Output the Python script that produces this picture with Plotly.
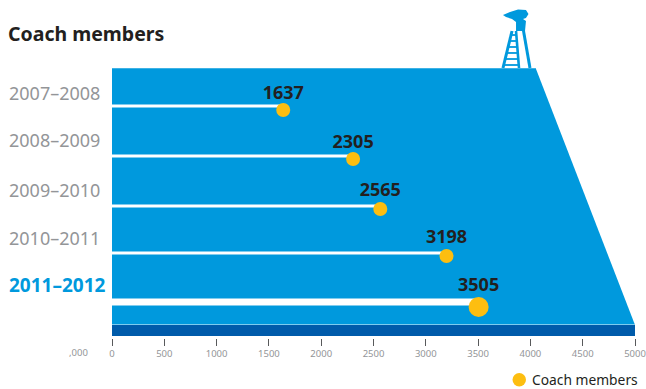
import plotly.graph_objects as go

# Data
seasons = ["2007–2008", "2008–2009", "2009–2010", "2010–2011", "2011–2012"]
coach_members = [1637, 2305, 2565, 3198, 3505]
x_ticks = [0, 500, 1000, 1500, 2000, 2500, 3000, 3500, 4000, 4500, 5000]
series_name = "Coach members"

# Layout constants (pixel geometry of the page)
W, H = 646, 389
L, R, TOP, BOT, AXIS = 112, 635, 68, 336, 338
line_row = [106, 156, 206, 253, 302]
dot_row = [110, 159, 209, 256, 307]
value_row = [94, 143, 191, 238, 286]
label_row = [94, 141, 191, 239, 286]
line_w = [3, 3, 3, 3, 7]
dot_size = [14, 14, 14, 14, 20]

BLUE, DARK, GOLD, INK, GREY = "#0099DD", "#005BAA", "#FDBE10", "#231F20", "#939598"
FONT = "Noto Sans"

def tx(x): return x / W
def ty(y): return 1 - y / H
def path(points):
    return "M" + " L".join(f"{x},{y}" for x, y in points) + " Z"
def tower(points, closed=True):
    s = "M" + " L".join(f"{tx(x):.4f},{ty(y):.4f}" for x, y in points)
    return s + (" Z" if closed else "")

fig = go.Figure()
for i, v in enumerate(coach_members):
    fig.add_trace(go.Scatter(x=[0, v], y=[line_row[i]] * 2, mode="lines",
                             line=dict(color="white", width=line_w[i]),
                             showlegend=False, hoverinfo="skip"))
fig.add_trace(go.Scatter(x=coach_members, y=dot_row, mode="markers", name=series_name,
                         marker=dict(color=GOLD, size=dot_size, opacity=1, line=dict(width=0)),
                         showlegend=False))
fig.add_trace(go.Scatter(x=coach_members, y=value_row, mode="text",
                         text=[str(v) for v in coach_members], textposition="middle center",
                         textfont=dict(family=FONT, size=18, color=INK, weight="bold"),
                         showlegend=False, hoverinfo="skip"))

shapes = [
    dict(type="path", xref="x", yref="y", layer="below", line_width=0, fillcolor=BLUE,
         path=path([(0, TOP), (4050, TOP), (5000, 325), (0, 325)])),
    dict(type="rect", xref="x", yref="y", layer="below", line_width=0, fillcolor=DARK,
         x0=0, x1=5000, y0=325, y1=BOT),
    dict(type="line", xref="x", yref="y", layer="below", x0=0, x1=4050, y0=TOP, y1=TOP,
         line=dict(color="#7CCBEE", width=1)),
    dict(type="line", xref="x", yref="y", layer="below", x0=0, x1=5000, y0=324.5, y1=324.5,
         line=dict(color="#7CCBEE", width=1)),
    # legend key
    dict(type="circle", xref="paper", yref="paper", fillcolor=GOLD, line_width=0,
         x0=tx(512.5), x1=tx(526), y0=ty(386.5), y1=ty(373)),
]

# Lifeguard tower (decoration), in page pixels mapped to the paper
canopy = [(503, 15), (510, 12), (518, 9.5), (526, 10), (528.5, 14), (526, 18), (523, 19),
          (526, 21), (525, 31), (516, 31), (516, 22), (512, 19), (506, 17)]
shapes.append(dict(type="path", xref="paper", yref="paper", path=tower(canopy), fillcolor=BLUE, line_width=0))
for a, b, w in [((512, 31), (503, 68), 3), ((516, 31), (519, 68), 2.6), ((523, 28), (530, 68), 3)]:
    shapes.append(dict(type="path", xref="paper", yref="paper", path=tower([a, b], False),
                       line=dict(color=BLUE, width=w)))
for y in [35, 41, 47, 53, 59, 65]:
    x0 = 512 - (y - 31) * 9 / 37
    x1 = 516 + (y - 31) * 3 / 37
    shapes.append(dict(type="path", xref="paper", yref="paper", path=tower([(x0, y), (x1, y)], False),
                       line=dict(color=BLUE, width=1.8)))

annotations = []
for i, s in enumerate(seasons):
    last = i == len(seasons) - 1
    annotations.append(dict(xref="paper", yref="paper", x=tx(9), y=ty(label_row[i] - 1),
                            text=f"<b>{s}</b>" if last else s,
                            xanchor="left", yanchor="middle", showarrow=False, xshift=-2,
                            font=dict(family=FONT, size=19 if last else 18, color=BLUE if last else GREY)))
annotations.append(dict(xref="paper", yref="paper", x=tx(8), y=ty(34), text="<b>Coach members</b>",
                        xanchor="left", yanchor="middle", showarrow=False, xshift=-2,
                        font=dict(family=FONT, size=19.5, color=INK)))
annotations.append(dict(xref="paper", yref="paper", x=tx(90), y=ty(352), text=",000",
                        xanchor="right", yanchor="middle", showarrow=False,
                        font=dict(family=FONT, size=9.5, color=GREY)))
annotations.append(dict(xref="paper", yref="paper", x=tx(532), y=ty(379.5), text=series_name,
                        xanchor="left", yanchor="middle", showarrow=False, xshift=-2,
                        font=dict(family=FONT, size=13.8, color=INK)))

fig.update_layout(
    width=W, height=H, autosize=False, plot_bgcolor="white", paper_bgcolor="white",
    margin=dict(l=0, r=0, t=0, b=0, pad=0), showlegend=False,
    font=dict(family=FONT),
    xaxis=dict(range=[0, 5000], domain=[L / W, R / W], tickvals=x_ticks, ticks="outside", ticklen=7,
               tickwidth=1, tickcolor="#58595B", showgrid=False, zeroline=False, showline=False,
               anchor="free", position=ty(AXIS), automargin=False,
               tickfont=dict(family=FONT, size=9.5, color=GREY)),
    yaxis=dict(range=[BOT, TOP], domain=[ty(BOT), ty(TOP)], visible=False, fixedrange=True, automargin=False),
    shapes=shapes, annotations=annotations,
)
fig.write_html("out.html", config=dict(displayModeBar=False),
               post_script="document.body.style.margin='0';document.body.style.overflow='hidden';")
